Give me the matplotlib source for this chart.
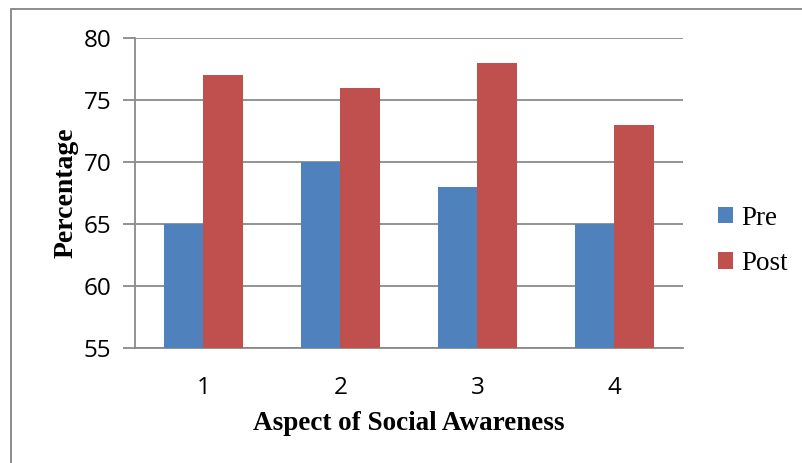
import numpy as np
import matplotlib
matplotlib.use("Agg")
import matplotlib.pyplot as plt
from matplotlib.patches import Rectangle

# scores per aspect, before and after
aspects = ["1", "2", "3", "4"]
pre = [65, 70, 68, 65]
post = [77, 76, 78, 73]
yticks = [55, 60, 65, 70, 75, 80]

W, H, DPI = 803, 463, 100
fig = plt.figure(figsize=(W / DPI, H / DPI), dpi=DPI)
ax = fig.add_axes([135 / W, 1 - 348 / H, (683 - 135) / W, (348 - 38) / H])

# outer chart frame (only top and left edges show in the cropped area)
fig.patches.append(Rectangle((11 / W, -0.1), 1.2, 1 - 9 / H + 0.1,
                             transform=fig.transFigure, fill=False,
                             edgecolor="#8c8c8c", linewidth=1.4, zorder=0))

x = np.arange(len(aspects))
w = 0.285
ax.bar(x - w / 2, pre, w, color="#4F81BD", label="Pre", zorder=3)
ax.bar(x + w / 2, post, w, color="#C0504D", label="Post", zorder=3)

ax.set_ylim(55, 80)
ax.set_xlim(-0.5, len(aspects) - 0.5)
ax.set_yticks(yticks)
ax.set_xticks(x)
ax.set_xticklabels(aspects)

ax.yaxis.grid(True, color="#8a8a8a", linewidth=1.3, zorder=0)
ax.set_axisbelow(True)
for s in ["top", "right"]:
    ax.spines[s].set_visible(False)
for s in ["left", "bottom"]:
    ax.spines[s].set_color("#8a8a8a")
    ax.spines[s].set_linewidth(1.3)

tick_font = "Open Sans"
ax.tick_params(axis="y", length=9, width=1.3, color="#8a8a8a", pad=8,
               labelsize=17.5)
ax.tick_params(axis="x", length=0, pad=20, labelsize=17.5)
for lab in ax.get_xticklabels() + ax.get_yticklabels():
    lab.set_fontfamily(tick_font)

ax.set_xlabel("Aspect of Social Awareness", family="Liberation Serif",
              fontweight="bold", fontsize=19.5, labelpad=8)
ax.set_ylabel("Percentage", family="Liberation Serif", fontweight="bold",
              fontsize=20, labelpad=4)

leg = ax.legend(loc="center left", bbox_to_anchor=(1.02, 0.345), frameon=False,
                prop={"family": "Liberation Serif", "size": 19.5},
                handlelength=0.55, handleheight=0.55, handletextpad=0.3,
                labelspacing=0.75)

fig.savefig("out.png", dpi=DPI, facecolor="white")
